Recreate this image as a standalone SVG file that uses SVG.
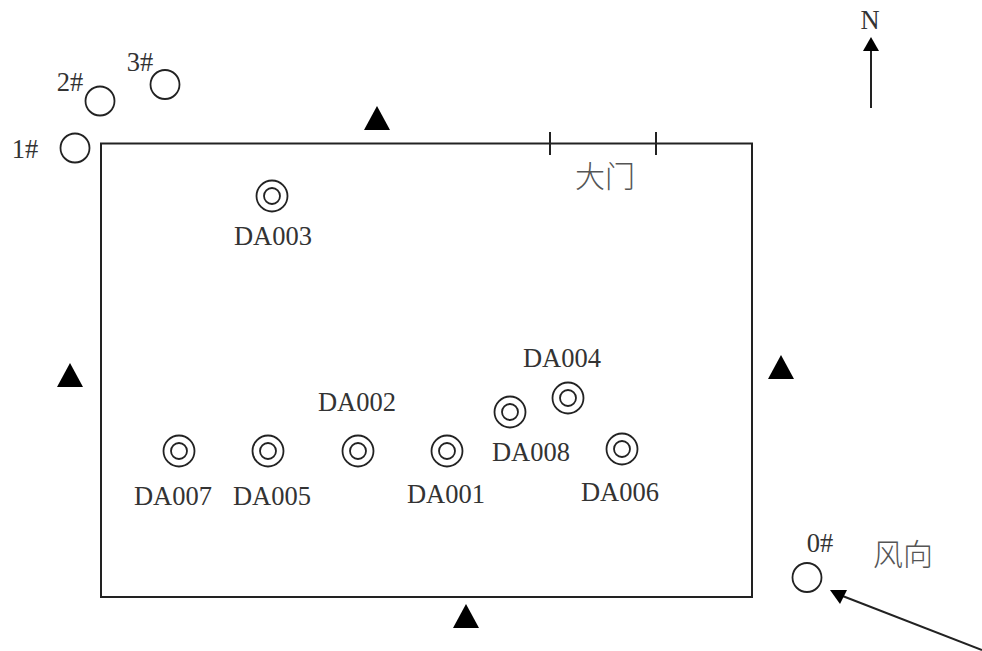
<svg xmlns="http://www.w3.org/2000/svg" width="982" height="651" viewBox="0 0 982 651">
<style>
.t{font-family:"Liberation Serif",serif;font-size:26.500px;fill:#333;text-anchor:middle}
.c{font-family:"Noto Sans CJK SC",sans-serif;font-size:30px;fill:#555;text-anchor:middle;font-weight:300}
.o{fill:#fff;stroke:#222;stroke-width:1.800}
.i{fill:none;stroke:#222;stroke-width:1.800}
.l{stroke:#222;stroke-width:2;fill:none}
</style>
<defs>
<g id="well"><circle class="o" r="15.500"/><circle class="i" r="8"/></g>
<polygon id="tri" points="0,-12 13,12 -13,12" fill="#000"/>
</defs>
<g id="connectors">
<path class="l" d="M871 108V50"/>
<path d="M871 37L879 51H863Z" fill="#000"/>
<path class="l" d="M982 650L840 595"/>
<path d="M830 590L847 590L840 604Z" fill="#000"/>
</g>
<g id="site"><rect x="101" y="143.500" width="651" height="453.500" fill="none" stroke="#222" stroke-width="2"/>
<path class="l" d="M550 132V155M656 132V155"/>
<text class="c" x="605" y="187">大门</text></g>
<g id="n1"><circle class="o" cx="75" cy="148" r="14.500"/><text class="t" x="25" y="158">1#</text></g>
<g id="n2"><circle class="o" cx="100" cy="101" r="14.500"/><text class="t" x="70" y="91">2#</text></g>
<g id="n3"><circle class="o" cx="165" cy="84.500" r="14.500"/><text class="t" x="140" y="71">3#</text></g>
<g id="n0"><circle class="o" cx="807" cy="577.500" r="14.500"/><text class="t" x="820" y="552">0#</text></g>
<g id="north"><text class="t" x="870" y="29">N</text></g>
<g id="wind"><text class="c" x="903" y="565">风向</text></g>
<use id="t1" href="#tri" x="377" y="118"/>
<use id="t2" href="#tri" x="70" y="375"/>
<use id="t3" href="#tri" x="781" y="367"/>
<use id="t4" href="#tri" x="466" y="616"/>
<g id="DA003"><use href="#well" x="272" y="196"/><text class="t" x="273" y="245">DA003</text></g>
<g id="DA004"><use href="#well" x="568" y="398"/><text class="t" x="562" y="367">DA004</text></g>
<g id="DA008"><use href="#well" x="510" y="412"/><text class="t" x="531" y="461">DA008</text></g>
<g id="DA002"><use href="#well" x="358" y="451"/><text class="t" x="357" y="411">DA002</text></g>
<g id="DA007"><use href="#well" x="179" y="451"/><text class="t" x="173" y="505">DA007</text></g>
<g id="DA005"><use href="#well" x="268" y="451"/><text class="t" x="272" y="505">DA005</text></g>
<g id="DA001"><use href="#well" x="447" y="451"/><text class="t" x="446" y="503">DA001</text></g>
<g id="DA006"><use href="#well" x="622" y="449"/><text class="t" x="620" y="501">DA006</text></g>
</svg>
